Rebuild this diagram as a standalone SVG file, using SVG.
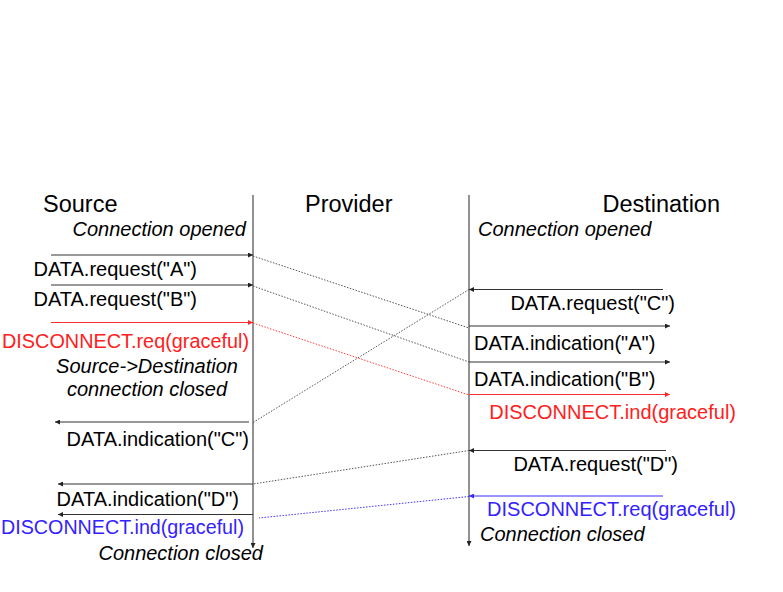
<svg xmlns="http://www.w3.org/2000/svg" width="783" height="592" viewBox="0 0 783 592">
<defs>
<marker id="ah" viewBox="0 0 6 6" refX="6" refY="3" markerWidth="5" markerHeight="5" markerUnits="userSpaceOnUse" orient="auto"><path d="M0,0 L6,3 L0,6 z" fill="#222"/></marker>
<marker id="ahr" viewBox="0 0 6 6" refX="6" refY="3" markerWidth="5" markerHeight="5" markerUnits="userSpaceOnUse" orient="auto"><path d="M0,0 L6,3 L0,6 z" fill="#ff2a2a"/></marker>
<marker id="ahb" viewBox="0 0 6 6" refX="6" refY="3" markerWidth="5" markerHeight="5" markerUnits="userSpaceOnUse" orient="auto"><path d="M0,0 L6,3 L0,6 z" fill="#3a2aff"/></marker>
</defs>
<style>
text{font-family:"Liberation Sans",Arial,Helvetica,sans-serif;font-size:20px;fill:#000}
.h{font-size:23.5px}
.i{font-style:italic}
.r{fill:#ff2020}
.b{fill:#3322ff}
.e{text-anchor:end}
.m{text-anchor:middle}
.life{stroke:#777;stroke-width:1.6;fill:none}
.arr{stroke:#333;stroke-width:1.1;fill:none;marker-end:url(#ah)}
.arrR{stroke:#ff3030;stroke-width:1.1;fill:none;marker-end:url(#ahr)}
.arrB{stroke:#3a2aff;stroke-width:1.1;fill:none;marker-end:url(#ahb)}
.dot{stroke:#555;stroke-width:1;stroke-dasharray:1.5 1.5;fill:none}
.dotR{stroke:#ff4040;stroke-width:1;stroke-dasharray:1.5 1.5;fill:none}
.dotB{stroke:#4433ff;stroke-width:1;stroke-dasharray:1.5 1.5;fill:none}
</style>
<rect width="783" height="592" fill="#fff"/>
<g id="source">
<line class="life" x1="253" y1="195" x2="253" y2="548" style="marker-end:url(#ah)"/>
<text class="h" x="43" y="212">Source</text>
<text class="i e" x="246" y="235.5">Connection opened</text>
</g>
<g id="provider">
<text class="h" x="305" y="212">Provider</text>
</g>
<g id="destination">
<line class="life" x1="469" y1="195" x2="469" y2="546" style="marker-end:url(#ah)"/>
<text class="h e" x="720" y="212">Destination</text>
<text class="i" x="478" y="235.5">Connection opened</text>
</g>
<g id="connectors">
<line class="arr" x1="51" y1="255" x2="253" y2="255"/>
<line class="arr" x1="51" y1="285" x2="253" y2="285"/>
<line class="arrR" x1="51" y1="322.5" x2="253" y2="322.5"/>
<line class="dot" x1="253" y1="256" x2="469" y2="328"/>
<line class="dot" x1="253" y1="286" x2="469" y2="362"/>
<line class="dotR" x1="253" y1="323" x2="469" y2="395"/>
<line class="arr" x1="663" y1="289.5" x2="469" y2="289.5"/>
<line class="dot" x1="469" y1="289.5" x2="253" y2="422.5"/>
<line class="arr" x1="469" y1="326" x2="670" y2="326"/>
<line class="arr" x1="469" y1="362" x2="670" y2="362"/>
<line class="arrR" x1="469" y1="394.5" x2="670" y2="394.5"/>
<line class="arr" x1="249" y1="422" x2="55" y2="422"/>
<line class="arr" x1="666" y1="450.5" x2="469" y2="450.5"/>
<line class="dot" x1="469" y1="450.5" x2="253" y2="484"/>
<line class="arr" x1="253" y1="484" x2="58" y2="484"/>
<line class="arrB" x1="663" y1="496" x2="469" y2="496"/>
<line class="dotB" x1="469" y1="496.5" x2="259" y2="518"/>
<line class="arr" x1="253" y1="514.5" x2="58" y2="514.5"/>
</g>
<g id="labels">
<text class="e" x="197" y="275.5">DATA.request("A")</text>
<text class="e" x="197" y="305.5">DATA.request("B")</text>
<text class="r" x="2" y="347.5" textLength="247" lengthAdjust="spacingAndGlyphs">DISCONNECT.req(graceful)</text>
<text class="i m" x="147" y="373">Source-&gt;Destination</text>
<text class="i m" x="147" y="396">connection closed</text>
<text class="e" x="249" y="445.5">DATA.indication("C")</text>
<text class="e" x="239" y="506">DATA.indication("D")</text>
<text class="b" x="1" y="533.5" textLength="243" lengthAdjust="spacingAndGlyphs">DISCONNECT.ind(graceful)</text>
<text class="i e" x="263" y="559.5">Connection closed</text>
<text class="e" x="675" y="309.5">DATA.request("C")</text>
<text x="474" y="349.5">DATA.indication("A")</text>
<text x="474" y="385.5">DATA.indication("B")</text>
<text class="e r" x="736" y="418.5">DISCONNECT.ind(graceful)</text>
<text class="e" x="678" y="470.5">DATA.request("D")</text>
<text class="e b" x="736" y="516">DISCONNECT.req(graceful)</text>
<text class="i" x="480" y="540.5">Connection closed</text>
</g>
</svg>
